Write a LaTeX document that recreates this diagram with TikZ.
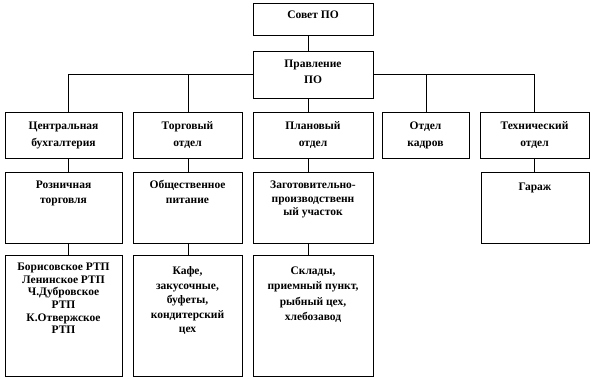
\documentclass[tikz,border=0pt]{standalone}
\usepackage{fontspec}
\setmainfont{Liberation Serif}
\usetikzlibrary{calc}
\tikzset{
  obox/.style={draw=black, line width=0.8pt, fill=white, inner sep=0pt, anchor=north west},
  otext/.style={inner sep=0pt, anchor=north, align=center, font=\bfseries\fontsize{11.5}{#1}\selectfont},
  conn/.style={draw=black, line width=0.8pt}
}
% name, x1, y1, x2, y2, first baseline, line skip, text
\newcommand\orgbox[8]{%
  \node[obox, minimum width={(#4-#2)*1pt}, minimum height={(#5-#3)*1pt}] (#1) at (#2,#3) {};
  \node[otext=#7] (#1t) at ({(#2+#4)/2},{#6-9}) {\rule{0pt}{9pt}#8};
}
\begin{document}
\begin{tikzpicture}[x=1pt,y=-1pt]
\useasboundingbox[fill=white] (0,0) rectangle (591,378);
% bus and connector columns
\coordinate (bus) at (0,74);
\coordinate (xa) at (68,0);
\coordinate (xb) at (188,0);
\coordinate (xc) at (308,0);
\coordinate (xd) at (426,0);
\coordinate (xe) at (534,0);
\draw[conn] (xa |- bus) -- (xe |- bus);
% boxes
\orgbox{sovet}{253}{3}{373}{35}{18.5}{13}{Совет ПО}
\orgbox{pravl}{253}{51}{373}{98}{66.8}{16.7}{Правление\\ПО}
\orgbox{cb}{5}{112}{122}{158}{129.5}{16.5}{Центральная\\бухгалтерия}
\orgbox{to}{133}{112}{242}{158}{129.5}{16.5}{Торговый\\отдел}
\orgbox{po}{253}{112}{373}{158}{129.5}{16.5}{Плановый\\отдел}
\orgbox{ok}{382}{112}{469}{158}{129.5}{16.5}{Отдел\\кадров}
\orgbox{te}{480}{112}{589}{158}{129.5}{16.5}{Технический\\отдел}
\orgbox{rt}{5}{172}{122}{243}{188.5}{15}{Розничная\\торговля}
\orgbox{op}{133}{172}{242}{243}{188.5}{15}{Общественное\\питание}
\orgbox{zp}{253}{172}{373}{243}{188.5}{13.5}{Заготовительно-\\производственн\\ый участок}
\orgbox{ga}{481}{172}{589}{243}{190}{13}{Гараж}
\orgbox{rtp}{5}{255}{122}{376}{270.2}{12.7}{Борисовское РТП\\Ленинское РТП\\Ч.Дубровское\\РТП\\К.Отвержское\\РТП}
\orgbox{kf}{133}{255}{242}{376}{274.2}{14.6}{Кафе,\\закусочные,\\буфеты,\\кондитерский\\цех}
\orgbox{sk}{253}{255}{373}{376}{274.2}{15.5}{Склады,\\приемный пункт,\\рыбный цех,\\хлебозавод}
% connectors
\draw[conn] (sovet.south -| xc) -- (pravl.north -| xc);
\draw[conn] (pravl.south -| xc) -- (po.north -| xc);
\draw[conn] (xa |- bus) -- (cb.north -| xa);
\draw[conn] (xb |- bus) -- (to.north -| xb);
\draw[conn] (xd |- bus) -- (ok.north -| xd);
\draw[conn] (xe |- bus) -- (te.north -| xe);
\draw[conn] (cb.south -| xa) -- (rt.north -| xa);
\draw[conn] (to.south -| xb) -- (op.north -| xb);
\draw[conn] (po.south -| xc) -- (zp.north -| xc);
\draw[conn] (te.south -| xe) -- (ga.north -| xe);
\draw[conn] (rt.south -| xa) -- (rtp.north -| xa);
\draw[conn] (op.south -| xb) -- (kf.north -| xb);
\draw[conn] (zp.south -| xc) -- (sk.north -| xc);
\end{tikzpicture}
\end{document}
